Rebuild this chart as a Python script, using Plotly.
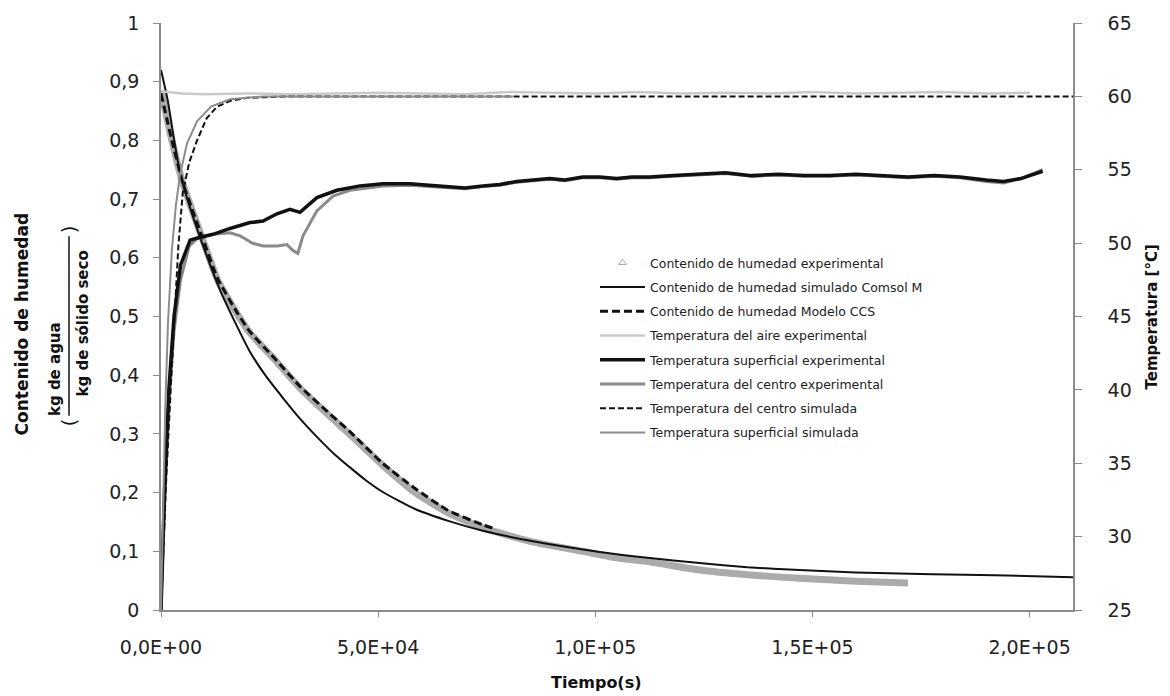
import plotly.graph_objects as go

# ---------------- data ----------------
# Moisture content, experimental (triangles, dense -> grey band)
t_hum_exp = [0, 2500, 5060, 9660, 13000, 17500, 20480, 26000, 32000, 38000, 43500, 51000,
             58900, 66000, 74100, 85000, 97100, 104000, 112500, 124000, 135000, 147000, 160000, 172000]
hum_exp = [0.885, 0.80, 0.726, 0.63, 0.563, 0.505, 0.472, 0.428, 0.378, 0.336, 0.299, 0.247,
           0.198, 0.166, 0.140, 0.117, 0.100, 0.090, 0.082, 0.068, 0.060, 0.054, 0.049, 0.046]

# Moisture content, simulated Comsol
t_hum_comsol = [0, 1500, 4370, 8280, 13580, 20480, 24000, 28000, 32000, 35900, 40000, 43500,
                47000, 51080, 58500, 66500, 74100, 85000, 101000, 112000, 124000, 135000, 147000,
                160000, 170000, 185000, 199000, 210000]
hum_comsol = [0.92, 0.87, 0.745, 0.65, 0.545, 0.44, 0.40, 0.362, 0.326, 0.295, 0.265, 0.243,
              0.222, 0.201, 0.172, 0.151, 0.135, 0.118, 0.099, 0.089, 0.080, 0.073, 0.068,
              0.064, 0.062, 0.060, 0.058, 0.056]

# Moisture content, CCS model
t_hum_ccs = [0, 2500, 5060, 9660, 13000, 17500, 20480, 26000, 32000, 38000, 43500, 51000,
             58900, 66000, 74100, 77000]
hum_ccs = [0.88, 0.80, 0.727, 0.632, 0.565, 0.507, 0.474, 0.43, 0.381, 0.34, 0.304, 0.25,
           0.205, 0.17, 0.145, 0.138]

# Air temperature, experimental
t_aire = [0, 5000, 10000, 20000, 30000, 40000, 50000, 60000, 70000, 80000, 90000, 100000,
          110000, 120000, 130000, 140000, 150000, 160000, 170000, 180000, 190000, 200000]
T_aire = [60.35, 60.2, 60.15, 60.2, 60.15, 60.2, 60.25, 60.2, 60.15, 60.3, 60.25, 60.2,
          60.3, 60.2, 60.25, 60.2, 60.3, 60.2, 60.25, 60.3, 60.2, 60.25]

# Surface temperature, experimental
t_sup_exp = [0, 800, 1800, 3000, 4500, 6700, 9000, 12000, 15900, 20500, 23500, 26700, 29700,
             32000, 35900, 40500, 45800, 51100, 57300, 62600, 66500, 70000, 74100, 78000, 81900,
             86000, 89500, 93000, 97100, 101000, 104900, 108500, 112500, 118000, 124000, 130000,
             136000, 142000, 148000, 154000, 160000, 166000, 172000, 178000, 184000, 190000,
             194000, 198000, 203000]
T_sup_exp = [25, 33, 40, 45, 48.5, 50.2, 50.4, 50.6, 51.0, 51.4, 51.5, 52.0, 52.3,
             52.1, 53.1, 53.6, 53.9, 54.05, 54.05, 53.9, 53.8, 53.75, 53.9, 54.0, 54.2,
             54.3, 54.4, 54.3, 54.5, 54.5, 54.4, 54.5, 54.5, 54.6, 54.7, 54.8,
             54.6, 54.7, 54.6, 54.6, 54.7, 54.6, 54.5, 54.6, 54.5, 54.3,
             54.2, 54.4, 54.9]

# Centre temperature, experimental
t_cen_exp = [0, 800, 1800, 3000, 4500, 6500, 8300, 12000, 15900, 18200, 21000, 23500, 26700,
             29000, 30400, 31500, 32700, 35900, 39600, 43500, 51100, 57300, 62600, 66500, 70000,
             74100, 78000, 81900, 86000, 89500, 93000, 97100, 101000, 104900, 108500, 112500,
             118000, 124000, 130000, 136000, 142000, 148000, 154000, 160000, 166000, 172000,
             178000, 184000, 190000, 194000, 198000, 203000]
T_cen_exp = [25, 32, 39, 44, 47.5, 49.8, 50.3, 50.6, 50.7, 50.5, 50.0, 49.8, 49.8,
             49.9, 49.5, 49.3, 50.5, 52.2, 53.2, 53.6, 53.9, 53.95, 53.85, 53.75, 53.7,
             53.85, 53.95, 54.15, 54.25, 54.35, 54.25, 54.45, 54.45, 54.35, 54.45, 54.45,
             54.55, 54.65, 54.75, 54.55, 54.65, 54.55, 54.55, 54.65, 54.55, 54.45,
             54.55, 54.45, 54.2, 54.1, 54.4, 55.0]

# Centre temperature, simulated
t_cen_sim = [0, 1200, 2400, 3200, 4000, 5000, 6500, 8300, 10500, 12900, 16000, 19800, 30000,
             60000, 100000, 150000, 210000]
T_cen_sim = [25, 34, 41, 45.5, 49.8, 53.4, 55.5, 57.0, 58.5, 59.3, 59.7, 59.9, 60.0,
             60.0, 60.0, 60.0, 60.0]

# Surface temperature, simulated
t_sup_sim = [0, 500, 1000, 1600, 2500, 3400, 4400, 6000, 8300, 11500, 15900, 23500, 40000, 60000, 81000]
T_sup_sim = [25, 33, 39, 44.5, 49.5, 52.5, 54.7, 56.8, 58.3, 59.3, 59.8, 60.0, 60.0, 60.0, 60.0]

# Tick labels
x_tickvals = [0, 50000, 100000, 150000, 200000]
x_ticktext = ["0,0E+00", "5,0E+04", "1,0E+05", "1,5E+05", "2,0E+05"]

names = [
    "Contenido de humedad experimental",
    "Contenido de humedad simulado Comsol M",
    "Contenido de humedad Modelo CCS",
    "Temperatura del aire experimental",
    "Temperatura superficial experimental",
    "Temperatura del centro experimental",
    "Temperatura del centro simulada",
    "Temperatura superficial simulada",
]

# ---------------- figure ----------------
fig = go.Figure()

fig.add_trace(go.Scatter(x=t_aire, y=T_aire, yaxis="y2", mode="lines", name=names[3],
                         line=dict(color="#c9c9c9", width=2.5), legendrank=4, legendgroup="g4"))
fig.add_trace(go.Scatter(x=t_hum_exp, y=hum_exp, mode="lines", name=names[0],
                         line=dict(color="#ababab", width=7, shape="spline", smoothing=0.5),
                         showlegend=False, legendgroup="g1", legendrank=1))
fig.add_trace(go.Scatter(x=[None], y=[None], mode="markers", name=names[0],
                         marker=dict(symbol="triangle-up-open", color="#a9a9a9", size=7),
                         legendrank=1, legendgroup="g1"))
fig.add_trace(go.Scatter(x=t_cen_exp, y=T_cen_exp, yaxis="y2", mode="lines", name=names[5],
                         line=dict(color="#8a8a8a", width=3), legendrank=6, legendgroup="g6"))
fig.add_trace(go.Scatter(x=t_sup_exp, y=T_sup_exp, yaxis="y2", mode="lines", name=names[4],
                         line=dict(color="#111111", width=3.5), legendrank=5, legendgroup="g5"))
fig.add_trace(go.Scatter(x=t_hum_comsol, y=hum_comsol, mode="lines", name=names[1],
                         line=dict(color="#111111", width=2, shape="spline", smoothing=0.6),
                         legendrank=2, legendgroup="g2"))
fig.add_trace(go.Scatter(x=t_hum_ccs, y=hum_ccs, mode="lines", name=names[2],
                         line=dict(color="#111111", width=3, dash="8px,4px", shape="spline",
                                   smoothing=0.5),
                         legendrank=3, legendgroup="g3"))
fig.add_trace(go.Scatter(x=t_cen_sim, y=T_cen_sim, yaxis="y2", mode="lines", name=names[6],
                         line=dict(color="#111111", width=2, dash="6px,3px"),
                         legendrank=7, legendgroup="g7"))
fig.add_trace(go.Scatter(x=t_sup_sim, y=T_sup_sim, yaxis="y2", mode="lines", name=names[7],
                         line=dict(color="#8c8c8c", width=2), legendrank=8, legendgroup="g8"))

L, R, T, B = 161, 97, 18, 86
W, H = 1170, 696
pw, ph = W - L - R, H - T - B


def px(xp):
    return (xp - L) / pw


def py(yp):
    return (H - B - yp) / ph


axis_col = "#8c8c8c"
tick_font = dict(family="DejaVu Sans", size=19, color="#222222")
title_font = dict(family="DejaVu Sans", size=15, color="#111111")

fig.update_layout(
    width=W, height=H,
    margin=dict(l=L, r=R, t=T, b=B),
    paper_bgcolor="white", plot_bgcolor="white",
    separators=",.",
    showlegend=True,
    legend=dict(x=px(595), y=py(245), xanchor="left", yanchor="top",
                font=dict(family="DejaVu Sans", size=12.5, color="#222222"),
                bgcolor="rgba(0,0,0,0)", itemwidth=45, tracegroupgap=5,
                traceorder="grouped"),
    xaxis=dict(range=[0, 210000], tickvals=x_tickvals, ticktext=x_ticktext,
               showgrid=False, zeroline=False, showline=True, linecolor=axis_col, linewidth=1.5,
               ticks="outside", ticklen=5, tickcolor=axis_col, tickfont=tick_font,
               ticklabelstandoff=14),
    yaxis=dict(range=[0, 1], dtick=0.1, tick0=0, showgrid=False, zeroline=False,
               showline=True, linecolor=axis_col, linewidth=1.5,
               ticks="outside", ticklen=6, tickcolor=axis_col, tickfont=tick_font,
               ticklabelstandoff=10),
    yaxis2=dict(range=[25, 65], dtick=5, tick0=25, overlaying="y", side="right",
                showgrid=False, zeroline=False, showline=True, linecolor=axis_col, linewidth=1.5,
                ticks="outside", ticklen=7, tickcolor=axis_col, tickfont=tick_font,
                ticklabelstandoff=22),
)

ann = []
ann.append(dict(text="<b>Tiempo(s)</b>", x=px(596), y=py(683), xref="paper", yref="paper",
                showarrow=False, font=dict(family="DejaVu Sans", size=16, color="#111111"),
                xanchor="center", yanchor="middle"))
ann.append(dict(text="<b>Temperatura [°C]</b>", x=px(1152), y=py(315), xref="paper", yref="paper",
                showarrow=False, font=title_font, textangle=-90, xanchor="center", yanchor="middle"))
ann.append(dict(text="<b>Contenido de humedad</b>", x=px(22), y=py(322), xref="paper", yref="paper",
                showarrow=False, font=dict(family="DejaVu Sans", size=17, color="#111111"),
                textangle=-90, xanchor="center", yanchor="middle"))
ann.append(dict(text="<b>kg de agua</b>", x=px(55), y=py(367), xref="paper", yref="paper",
                showarrow=False, font=dict(family="DejaVu Sans", size=15, color="#111111"),
                textangle=-90, xanchor="center", yanchor="middle"))
ann.append(dict(text="<b>kg de sólido seco</b>", x=px(83), y=py(321), xref="paper", yref="paper",
                showarrow=False, font=dict(family="DejaVu Sans", size=15, color="#111111"),
                textangle=-90, xanchor="center", yanchor="middle"))
ann.append(dict(text="(", x=px(69), y=py(421), xref="paper", yref="paper",
                showarrow=False, font=dict(family="DejaVu Sans", size=20, color="#111111"),
                textangle=-90, xanchor="center", yanchor="middle"))
ann.append(dict(text=")", x=px(69), y=py(226), xref="paper", yref="paper",
                showarrow=False, font=dict(family="DejaVu Sans", size=20, color="#111111"),
                textangle=-90, xanchor="center", yanchor="middle"))
fig.update_layout(annotations=ann)

fig.add_shape(type="line", xref="paper", yref="paper", x0=px(69), x1=px(69),
              y0=py(414), y1=py(233), line=dict(color="#111111", width=1.5))

fig.write_html("out.html")
